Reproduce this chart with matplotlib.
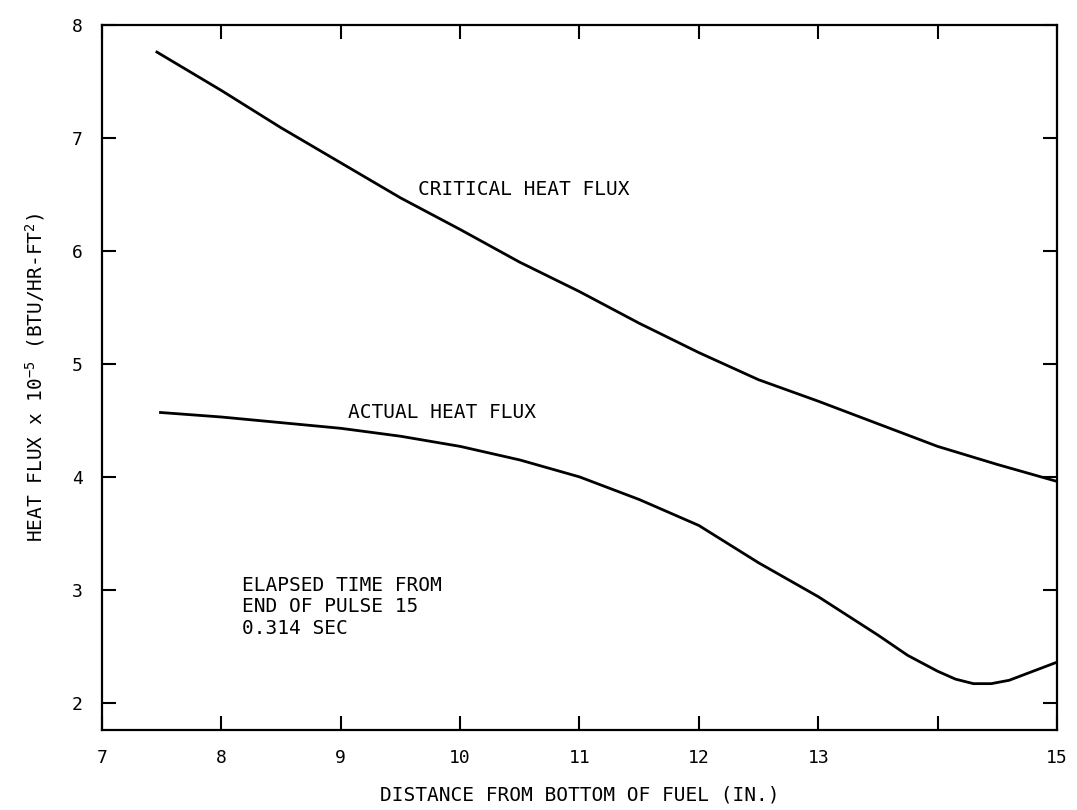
import matplotlib
matplotlib.use("Agg")
import matplotlib.pyplot as plt

plt.rcParams['font.family'] = 'monospace'
plt.rcParams['font.monospace'] = ['DejaVu Sans Mono']
plt.rcParams['mathtext.fontset'] = 'custom'
plt.rcParams['mathtext.rm'] = 'DejaVu Sans Mono'
plt.rcParams['mathtext.default'] = 'rm'

# distance from bottom of fuel (in.)
critical_x = [7.46, 8.0, 8.5, 9.0, 9.5, 10.0, 10.5, 11.0, 11.5, 12.0,
              12.5, 13.0, 13.5, 14.0, 14.5, 15.0]
critical_flux = [7.76, 7.42, 7.09, 6.78, 6.47, 6.19, 5.90, 5.64, 5.36, 5.10,
                 4.86, 4.67, 4.47, 4.27, 4.11, 3.96]

actual_x = [7.49, 8.0, 8.5, 9.0, 9.5, 10.0, 10.5, 11.0, 11.5, 12.0,
            12.5, 13.0, 13.5, 13.75, 14.0, 14.15, 14.3, 14.45, 14.6,
            14.75, 14.9, 15.0]
actual_flux = [4.57, 4.53, 4.48, 4.43, 4.36, 4.27, 4.15, 4.00, 3.80, 3.57,
               3.24, 2.94, 2.60, 2.42, 2.28, 2.21, 2.17, 2.17, 2.20,
               2.26, 2.32, 2.36]

x_ticks = [7, 8, 9, 10, 11, 12, 13, 14, 15]
x_tick_labels = ['7', '8', '9', '10', '11', '12', '13', '', '15']
y_ticks = [2, 3, 4, 5, 6, 7, 8]

fig = plt.figure(figsize=(10.77, 8.10), dpi=100)
ax = fig.add_axes([0.0947, 0.0988, 0.8867, 0.8704])

ax.plot(critical_x, critical_flux, color='black', linewidth=2.0,
        solid_joinstyle='round')
ax.plot(actual_x, actual_flux, color='black', linewidth=2.0,
        solid_joinstyle='round')

ax.set_xlim(7, 15)
ax.set_ylim(1.76, 8)
ax.set_xticks(x_ticks, labels=x_tick_labels)
ax.set_yticks(y_ticks)

for side in ax.spines.values():
    side.set_linewidth(1.6)

ax.tick_params(axis='both', which='major', direction='in', length=10,
               width=1.5, top=True, right=True, labelsize=13, pad=14)

ax.text(9.65, 6.54, 'CRITICAL HEAT FLUX', fontsize=14, ha='left', va='center')
ax.text(9.06, 4.57, 'ACTUAL HEAT FLUX', fontsize=14, ha='left', va='center')
ax.text(8.17, 2.85, 'ELAPSED TIME FROM\nEND OF PULSE 15\n0.314 SEC',
        fontsize=14, ha='left', va='center', linespacing=1.15)

ax.set_xlabel('DISTANCE FROM BOTTOM OF FUEL (IN.)', fontsize=14, labelpad=13)
ax.set_ylabel('HEAT FLUX x 10$^{-5}$ (BTU/HR-FT$^{2}$)', fontsize=14,
              labelpad=18)

fig.savefig('out.png', dpi=100, facecolor='white')
